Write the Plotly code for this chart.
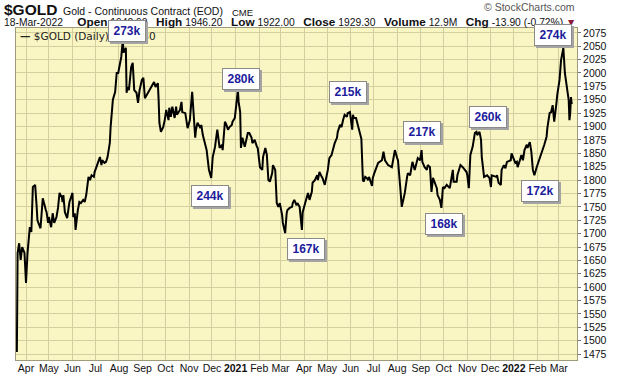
import plotly.graph_objects as go

# ---------------- data ----------------
dates = [
"2020-03-20","2020-03-21","2020-03-23","2020-03-25","2020-03-27","2020-03-30","2020-04-01","2020-04-03","2020-04-06","2020-04-08",
"2020-04-10","2020-04-13","2020-04-15","2020-04-16","2020-04-20","2020-04-22","2020-04-23","2020-04-27","2020-04-28","2020-04-30",
"2020-05-01","2020-05-04","2020-05-06","2020-05-08","2020-05-11","2020-05-13","2020-05-15","2020-05-18","2020-05-19","2020-05-20",
"2020-05-22","2020-05-25","2020-05-28","2020-06-01","2020-06-02","2020-06-04","2020-06-05","2020-06-08","2020-06-10","2020-06-12",
"2020-06-15","2020-06-17","2020-06-19","2020-06-22","2020-06-24","2020-06-26","2020-06-29","2020-06-30","2020-07-02","2020-07-06",
"2020-07-07","2020-07-09","2020-07-10","2020-07-13","2020-07-15","2020-07-17","2020-07-20","2020-07-21","2020-07-22","2020-07-24",
"2020-07-27","2020-07-28","2020-07-29","2020-07-31","2020-08-04","2020-08-06","2020-08-07","2020-08-10","2020-08-11","2020-08-12",
"2020-08-14","2020-08-17","2020-08-19","2020-08-21","2020-08-24","2020-08-26","2020-08-28","2020-08-31","2020-09-02","2020-09-04",
"2020-09-08","2020-09-09","2020-09-11","2020-09-14","2020-09-16","2020-09-18","2020-09-21","2020-09-22","2020-09-23","2020-09-25",
"2020-09-28","2020-09-30","2020-10-02","2020-10-05","2020-10-06","2020-10-08","2020-10-10","2020-10-13","2020-10-15","2020-10-16",
"2020-10-20","2020-10-22","2020-10-23","2020-10-27","2020-10-29","2020-10-30","2020-11-02","2020-11-04","2020-11-05","2020-11-06",
"2020-11-09","2020-11-10","2020-11-12","2020-11-16","2020-11-17","2020-11-19","2020-11-22","2020-11-24","2020-11-27","2020-11-30",
"2020-12-02","2020-12-05","2020-12-07","2020-12-08","2020-12-11","2020-12-14","2020-12-15","2020-12-18","2020-12-20","2020-12-22",
"2020-12-24","2020-12-27","2020-12-28","2020-12-31","2021-01-04","2021-01-05","2021-01-07","2021-01-08","2021-01-10","2021-01-13",
"2021-01-15","2021-01-17","2021-01-19","2021-01-22","2021-01-23","2021-01-26","2021-01-29","2021-01-30","2021-02-02","2021-02-05",
"2021-02-06","2021-02-09","2021-02-11","2021-02-13","2021-02-15","2021-02-18","2021-02-19","2021-02-22","2021-02-24","2021-02-26",
"2021-02-28","2021-03-03","2021-03-04","2021-03-07","2021-03-09","2021-03-10","2021-03-13","2021-03-16","2021-03-17","2021-03-19",
"2021-03-22","2021-03-23","2021-03-26","2021-03-29","2021-03-30","2021-04-02","2021-04-04","2021-04-06","2021-04-08","2021-04-11",
"2021-04-12","2021-04-15","2021-04-18","2021-04-19","2021-04-21","2021-04-24","2021-04-25","2021-04-28","2021-05-01","2021-05-02",
"2021-05-04","2021-05-07","2021-05-08","2021-05-11","2021-05-14","2021-05-15","2021-05-18","2021-05-20","2021-05-22","2021-05-24",
"2021-05-27","2021-05-28","2021-05-31","2021-06-03","2021-06-04","2021-06-05","2021-06-08","2021-06-11","2021-06-14","2021-06-15",
"2021-06-17","2021-06-18","2021-06-20","2021-06-22","2021-06-24","2021-06-25","2021-06-29","2021-06-30","2021-07-02","2021-07-07",
"2021-07-12","2021-07-14","2021-07-16","2021-07-20","2021-07-25","2021-07-27","2021-07-29","2021-08-01","2021-08-02","2021-08-05",
"2021-08-07","2021-08-09","2021-08-11","2021-08-14","2021-08-15","2021-08-18","2021-08-20","2021-08-21","2021-08-24","2021-08-27",
"2021-08-28","2021-08-31","2021-09-02","2021-09-03","2021-09-06","2021-09-09","2021-09-10","2021-09-13","2021-09-15","2021-09-17",
"2021-09-19","2021-09-22","2021-09-23","2021-09-26","2021-09-28","2021-09-30","2021-10-02","2021-10-05","2021-10-09","2021-10-13",
"2021-10-14","2021-10-18","2021-10-19","2021-10-23","2021-10-26","2021-10-29","2021-10-31","2021-11-01","2021-11-03","2021-11-05",
"2021-11-08","2021-11-11","2021-11-13","2021-11-14","2021-11-17","2021-11-19","2021-11-20","2021-11-23","2021-11-27","2021-11-30",
"2021-12-02","2021-12-03","2021-12-09","2021-12-10","2021-12-12","2021-12-15","2021-12-16","2021-12-19","2021-12-21","2021-12-23",
"2021-12-28","2021-12-29","2022-01-03","2022-01-05","2022-01-06","2022-01-09","2022-01-11","2022-01-13","2022-01-15","2022-01-18",
"2022-01-19","2022-01-22","2022-01-24","2022-01-26","2022-01-28","2022-01-31","2022-02-01","2022-02-04","2022-02-07","2022-02-08",
"2022-02-10","2022-02-13","2022-02-14","2022-02-17","2022-02-19","2022-02-21","2022-02-23","2022-02-26","2022-02-27","2022-03-02",
"2022-03-04","2022-03-07","2022-03-08","2022-03-09","2022-03-10","2022-03-11","2022-03-14","2022-03-15","2022-03-16","2022-03-17",
"2022-03-18",
]
prices = [
1479,1664,1682,1651,1675,1664,1608,1664,1712,1703,
1787,1791,1750,1725,1710,1763,1766,1744,1740,1720,
1731,1712,1738,1720,1731,1748,1776,1768,1759,1772,
1740,1729,1759,1776,1731,1738,1707,1744,1759,1757,
1763,1759,1772,1806,1800,1809,1806,1815,1822,1837,
1843,1828,1837,1832,1834,1843,1870,1899,1918,1950,
1965,1978,2000,2000,2030,2062,2038,2047,1963,1974,
1968,2011,2019,1968,1963,1944,1968,1987,1991,1953,
1963,1968,1972,1978,1983,1974,1981,1950,1907,1890,
1899,1912,1931,1912,1935,1918,1937,1916,1937,1922,
1931,1946,1927,1925,1909,1897,1912,1940,1965,1944,
1879,1894,1907,1897,1903,1884,1866,1856,1819,1804,
1843,1862,1884,1894,1860,1866,1856,1909,1903,1894,
1899,1903,1909,1916,1968,1946,1927,1860,1879,1862,
1875,1888,1888,1879,1869,1875,1862,1860,1824,1819,
1843,1860,1847,1800,1797,1813,1828,1819,1757,1750,
1757,1735,1720,1701,1738,1744,1748,1750,1757,1763,
1753,1757,1750,1707,1740,1759,1766,1776,1763,1778,
1795,1800,1809,1800,1815,1806,1804,1791,1813,1819,
1841,1847,1853,1869,1879,1890,1903,1899,1912,1922,
1918,1925,1927,1894,1922,1916,1916,1899,1881,1877,
1800,1797,1806,1804,1800,1806,1789,1804,1813,1832,
1837,1853,1837,1828,1824,1837,1856,1841,1837,1787,
1750,1763,1776,1806,1813,1809,1828,1834,1819,1837,
1841,1837,1856,1834,1824,1819,1828,1824,1778,1804,
1795,1785,1772,1763,1748,1787,1785,1791,1785,1819,
1797,1797,1809,1828,1824,1819,1815,1809,1785,1847,
1862,1888,1890,1884,1890,1875,1843,1806,1809,1804,
1787,1809,1806,1809,1795,1791,1819,1828,1822,1834,
1837,1850,1832,1834,1824,1837,1847,1837,1856,1866,
1860,1871,1853,1819,1809,1824,1828,1843,1853,1860,
1866,1881,1897,1925,1927,1940,1909,1944,1959,1987,
2024,2047,2006,2000,1990,1981,1950,1912,1925,1955,
1942,
]

month_ticks = [
"2020-04-01","2020-05-01","2020-06-01","2020-07-01","2020-08-01","2020-09-01","2020-10-01","2020-11-01","2020-12-01",
"2021-01-01","2021-02-01","2021-03-01","2021-04-01","2021-05-01","2021-06-01","2021-07-01","2021-08-01","2021-09-01",
"2021-10-01","2021-11-01","2021-12-01","2022-01-01","2022-02-01","2022-03-01",
]
month_labels = [
"Apr","May","Jun","Jul","Aug","Sep","Oct","Nov","Dec",
"<b>2021</b>","Feb","Mar","Apr","May","Jun","Jul","Aug","Sep",
"Oct","Nov","Dec","<b>2022</b>","Feb","Mar",
]

# volume call-out labels and their anchor (date, price)
callout_text = ["273k","280k","244k","167k","215k","217k","260k","168k","172k","274k"]
callout_date = ["2020-08-11","2021-01-08","2020-11-28","2021-04-04","2021-05-29",
                "2021-09-03","2021-11-28","2021-10-01","2022-02-04","2022-02-22"]
callout_price = [2079,1989,1770,1671,1965,1890,1918,1718,1780,2071]

# ---------------- layout constants ----------------
W, H = 620, 376
ML, MR, MT, MB = 16, 43, 28, 16
PW, PH = W - ML - MR, H - MT - MB
FONT = "Liberation Sans, Arial, sans-serif"
BG = "#f9f6c3"
GRID = "#d3cf9f"


def px(x):
    return (x - ML) / PW


def py(y):
    return (H - MB - y) / PH


fig = go.Figure()
fig.add_trace(go.Scatter(x=dates, y=prices, mode="lines",
                         line=dict(color="#000000", width=2), hoverinfo="skip"))

SP = "&nbsp;"
B = "<span style='font-size:11.8px'><b>%s</b></span>"
annotations = []
# header
annotations.append(dict(x=px(2), y=py(10), xref="paper", yref="paper", xanchor="left", yanchor="middle",
                        text="<b>$GOLD</b>", showarrow=False,
                        font=dict(family=FONT, size=15.5, color="#111")))
annotations.append(dict(x=px(61), y=py(11), xref="paper", yref="paper", xanchor="left", yanchor="middle",
                        text="Gold - Continuous Contract (EOD)", showarrow=False,
                        font=dict(family=FONT, size=10.5, color="#111")))
annotations.append(dict(x=px(230), y=py(12), xref="paper", yref="paper", xanchor="left", yanchor="middle",
                        text="CME", showarrow=False, font=dict(family=FONT, size=9.5, color="#111")))
line2 = ("18-Mar-2022" + SP * 5 + B % "Open" + SP + "1942.90" + SP * 3 +
         B % "High" + SP + "1946.20" + SP * 3 +
         B % "Low" + SP + "1922.00" + SP * 3 +
         B % "Close" + SP + "1929.30" + SP * 3 +
         B % "Volume" + SP + "12.9M" + SP * 3 +
         B % "Chg" + SP + "-13.90 (-0.72%)" + SP +
         "<span style='color:#8b1a3a'>▼</span>")
annotations.append(dict(x=px(2), y=py(22), xref="paper", yref="paper", xanchor="left", yanchor="middle",
                        text=line2, showarrow=False, font=dict(family=FONT, size=10.3, color="#111")))
annotations.append(dict(x=px(577), y=py(7), xref="paper", yref="paper", xanchor="right", yanchor="middle",
                        text="© StockCharts.com", showarrow=False, font=dict(family=FONT, size=10.5, color="#555")))
# legend
annotations.append(dict(x=px(18), y=py(36), xref="paper", yref="paper", xanchor="left", yanchor="middle",
                        text="<b>—</b> $GOLD (Daily) 1929.30", showarrow=False,
                        font=dict(family="DejaVu Sans, sans-serif", size=10.5, color="#222")))
# call-outs (shadow box then labelled box)
for t, d, p in zip(callout_text, callout_date, callout_price):
    annotations.append(dict(x=d, y=p, xref="x", yref="y", text=SP, showarrow=False,
                            width=30, height=14, xshift=2, yshift=-2,
                            bgcolor="#a4a4a4", bordercolor="#a4a4a4", borderwidth=1,
                            borderpad=3, font=dict(family=FONT, size=12, color="#a4a4a4")))
    annotations.append(dict(x=d, y=p, xref="x", yref="y", text="<b>%s</b>" % t, showarrow=False,
                            width=30, height=14,
                            bgcolor="#ffffff", bordercolor="#8a8a8a", borderwidth=1,
                            borderpad=3, font=dict(family=FONT, size=12, color="#1c1c9c")))

fig.update_layout(
    width=W, height=H,
    margin=dict(l=ML, r=MR, t=MT, b=MB, pad=0, autoexpand=False),
    paper_bgcolor="#ffffff",
    plot_bgcolor=BG,
    showlegend=False,
    annotations=annotations,
    xaxis=dict(
        type="date",
        range=["2020-03-18 21:00", "2022-03-24 22:00"],
        tickmode="array", tickvals=month_ticks, ticktext=month_labels,
        showgrid=True, gridcolor=GRID, gridwidth=1,
        ticks="", tickfont=dict(family=FONT, size=10.5, color="#111"),
        ticklabelstandoff=-2,
        showline=True, linecolor="#9e9b7a", linewidth=1, mirror=True,
        zeroline=False, fixedrange=True, automargin=False,
    ),
    yaxis=dict(
        side="right",
        range=[1464, 2084],
        tick0=1475, dtick=25,
        showgrid=True, gridcolor=GRID, gridwidth=1,
        ticks="outside", ticklen=3, tickcolor="#777",
        tickfont=dict(family=FONT, size=10.5, color="#111"),
        showline=True, linecolor="#9e9b7a", linewidth=1, mirror=True,
        zeroline=False, fixedrange=True, automargin=False,
    ),
)

fig.write_html("out.html", config={"displayModeBar": False},
               post_script="document.body.style.margin='0px';")
